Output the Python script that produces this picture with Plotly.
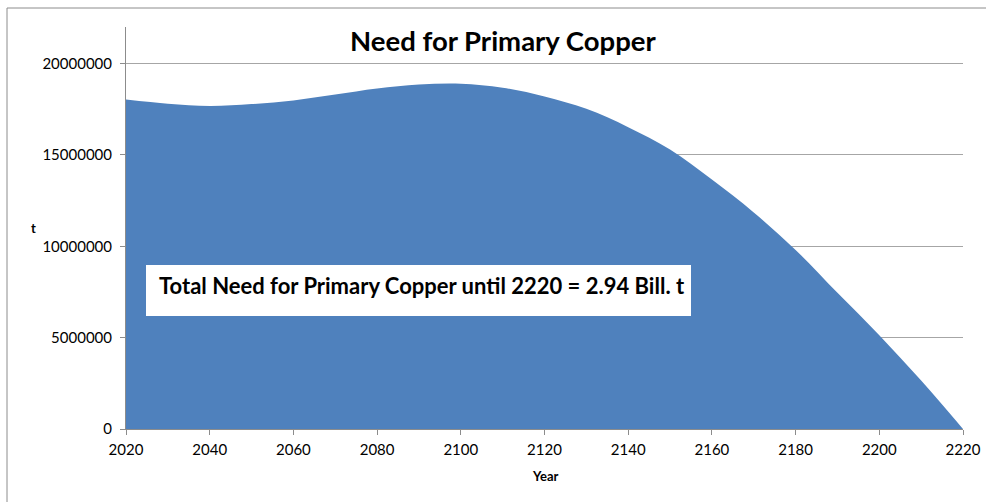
import plotly.graph_objects as go

years = [2020, 2030, 2040, 2050, 2060, 2070, 2080, 2090, 2100, 2110, 2120,
         2130, 2140, 2150, 2160, 2170, 2180, 2190, 2200, 2210, 2220]
need_t = [18.03e6, 17.80e6, 17.68e6, 17.78e6, 17.98e6, 18.30e6, 18.63e6, 18.85e6,
          18.90e6, 18.68e6, 18.20e6, 17.52e6, 16.52e6, 15.30e6, 13.65e6, 11.85e6,
          9.80e6, 7.45e6, 5.13e6, 2.65e6, 0.0]

x_ticks = list(range(2020, 2221, 20))
y_ticks = [0, 5000000, 10000000, 15000000, 20000000]

title_text = "Need for Primary Copper"
note_text = "Total Need for Primary Copper until 2220 = 2.94 Bill. t"

W, H = 986, 502
ML, MR, MT, MB = 126, 23, 27, 73
PW, PH = W - ML - MR, H - MT - MB

def px(xp):
    return (xp - ML) / PW

def py(yp):
    return (H - MB - yp) / PH

FONT = "Lato"
GRAY = "#8c8c8c"

fig = go.Figure()
fig.add_trace(go.Scatter(
    x=years, y=need_t, mode="lines", line=dict(width=0, shape="spline", smoothing=1.0),
    fill="tozeroy", fillcolor="#4F81BD", hoverinfo="skip", showlegend=False))

fig.update_layout(
    width=W, height=H, margin=dict(l=ML, r=MR, t=MT, b=MB, autoexpand=False),
    paper_bgcolor="white", plot_bgcolor="white",
    font=dict(family=FONT, size=15, color="black"),
    xaxis=dict(range=[2020, 2220], tickvals=x_ticks, ticks="outside", ticklen=5,
               tickcolor=GRAY, showline=True, linecolor=GRAY, linewidth=1,
               showgrid=False, zeroline=False, tickfont=dict(size=15),
               ticklabelstandoff=2),
    yaxis=dict(range=[0, 22000000], tickvals=y_ticks, tickformat="d", ticks="outside",
               ticklen=5, tickcolor=GRAY, showline=True, linecolor=GRAY, linewidth=1,
               showgrid=True, gridcolor="#a6a6a6", gridwidth=1, zeroline=False,
               tickfont=dict(size=15), ticklabelstandoff=5),
    shapes=[
        dict(type="rect", xref="paper", yref="paper", x0=px(7), x1=px(992),
             y0=py(510), y1=py(8), line=dict(color=GRAY, width=1), fillcolor="rgba(0,0,0,0)",
             layer="above"),
        dict(type="rect", xref="paper", yref="paper", x0=px(146), x1=px(691),
             y0=py(316), y1=py(265), line=dict(width=0), fillcolor="white", layer="above"),
    ],
    annotations=[
        dict(text="<b>" + title_text + "</b>", xref="paper", yref="paper",
             x=px(503), y=py(40), xanchor="center", yanchor="middle", showarrow=False,
             font=dict(size=27.5, family=FONT)),
        dict(text="<b>" + note_text + "</b>", xref="paper", yref="paper",
             x=px(157), y=py(285), xanchor="left", yanchor="middle", showarrow=False,
             font=dict(size=22, family=FONT)),
        dict(text="<b>t</b>", xref="paper", yref="paper",
             x=px(33), y=py(228), xanchor="center", yanchor="middle", showarrow=False,
             font=dict(size=13, family=FONT)),
        dict(text="<b>Year</b>", xref="paper", yref="paper",
             x=px(545), y=py(476), xanchor="center", yanchor="middle", showarrow=False,
             font=dict(size=13, family=FONT)),
    ],
)

fig.write_html("out.html")
